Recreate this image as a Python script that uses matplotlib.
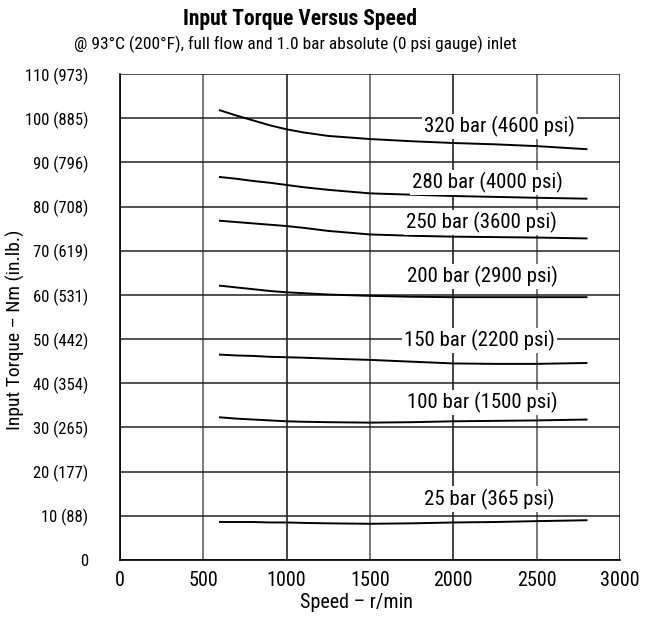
import matplotlib
matplotlib.use("Agg")
import matplotlib.pyplot as plt
from matplotlib import font_manager

entries = font_manager.fontManager.ttflist
names = {f.name for f in entries}


def pick(cands, bold=False):
    for c in cands:
        if bold:
            if any(f.name == c and (f.weight in ("bold", 700) or (isinstance(f.weight, int) and f.weight >= 700)) for f in entries):
                return c
        elif c in names:
            return c
    return "DejaVu Sans"


BODY = pick(["Roboto Condensed", "Archivo Narrow", "Barlow Semi Condensed"])
BOLD = pick(["Roboto Condensed", "Barlow Semi Condensed", "Asap Condensed"], bold=True)
plt.rcParams['font.family'] = [BODY, 'DejaVu Sans']

# Data
speeds = [600, 700, 800, 900, 1000, 1100, 1250, 1500, 1750, 2000, 2250, 2500, 2800]
t320 = [101.8, 100.6, 99.5, 98.4, 97.5, 96.8, 96.0, 95.3, 94.8, 94.4, 94.1, 93.7, 93.0]
t280 = [86.7, 86.3, 85.8, 85.4, 84.9, 84.4, 83.8, 83.0, 82.7, 82.4, 82.2, 82.0, 81.8]
t250 = [76.8, 76.5, 76.2, 75.9, 75.6, 75.2, 74.5, 73.7, 73.4, 73.2, 73.1, 73.0, 72.8]
t200 = [62.1, 61.7, 61.3, 60.9, 60.6, 60.4, 60.1, 59.8, 59.6, 59.5, 59.5, 59.5, 59.5]
t150 = [46.5, 46.3, 46.2, 46.0, 45.9, 45.8, 45.6, 45.3, 44.9, 44.5, 44.4, 44.4, 44.6]
t100 = [32.3, 32.0, 31.8, 31.6, 31.4, 31.3, 31.2, 31.1, 31.2, 31.4, 31.5, 31.6, 31.8]
t25 = [8.6, 8.6, 8.6, 8.5, 8.5, 8.4, 8.3, 8.2, 8.3, 8.5, 8.6, 8.8, 9.0]
series = [t320, t280, t250, t200, t150, t100, t25]
labels = ["320 bar (4600 psi)", "280 bar (4000 psi)", "250 bar (3600 psi)",
          "200 bar (2900 psi)", "150 bar (2200 psi)", "100 bar (1500 psi)",
          "25 bar (365 psi)"]
label_x = [2280, 2208, 2172, 2176, 2160, 2172, 2214]
label_y = [98.2, 85.4, 76.4, 64.2, 49.7, 35.7, 13.8]

xticks = [0, 500, 1000, 1500, 2000, 2500, 3000]
yticks = [0, 10, 20, 30, 40, 50, 60, 70, 80, 90, 100, 110]
ytick_labels = ["0", "10 (88)", "20 (177)", "30 (265)", "40 (354)", "50 (442)",
                "60 (531)", "70 (619)", "80 (708)", "90 (796)", "100 (885)", "110 (973)"]

fig = plt.figure(figsize=(6.47, 6.19), dpi=100)
ax = fig.add_axes([0.1855, 0.0953, 0.7725, 0.785])
ax.set_xlim(0, 3000)
ax.set_ylim(0, 110)
ax.set_xticks(xticks)
ax.set_yticks(yticks)
ax.set_yticklabels(ytick_labels)
ax.tick_params(axis="y", length=0, labelsize=12, pad=23)
ax.tick_params(axis="x", length=0, labelsize=14.5, pad=8)
ax.grid(True, color="#222222", linewidth=1.1)
for v, gl in zip(xticks, ax.get_xgridlines()):
    gl.set_color("#555555" if v in (500, 1500, 2500) else "#111111")
ax.set_axisbelow(True)
for s in ["top", "right"]:
    ax.spines[s].set_visible(False)
for s in ["left", "bottom"]:
    ax.spines[s].set_linewidth(1.2)

for ys in series:
    ax.plot(speeds, ys, color="black", linewidth=1.4, zorder=3)
for lab, lx, ly in zip(labels, label_x, label_y):
    ax.text(lx, ly, lab, ha="center", va="center", fontsize=15,
            bbox=dict(facecolor="white", edgecolor="none", pad=1.5), zorder=4)

ax.set_xlabel("Speed – r/min", fontsize=14.5)
ax.xaxis.set_label_coords(0.474, -0.068)
ax.set_ylabel("Input Torque – Nm (in.lb.)", fontsize=14)
ax.yaxis.set_label_coords(-0.19, 0.473)

fig.text(0.463, 0.970, "Input Torque Versus Speed", ha="center", va="center",
         fontsize=15.5, fontweight="bold", family=[BOLD, 'DejaVu Sans'])
fig.text(0.457, 0.929, "@ 93°C (200°F), full flow and 1.0 bar absolute (0 psi gauge) inlet",
         ha="center", va="center", fontsize=12.5)

fig.savefig("out.png", dpi=100)
